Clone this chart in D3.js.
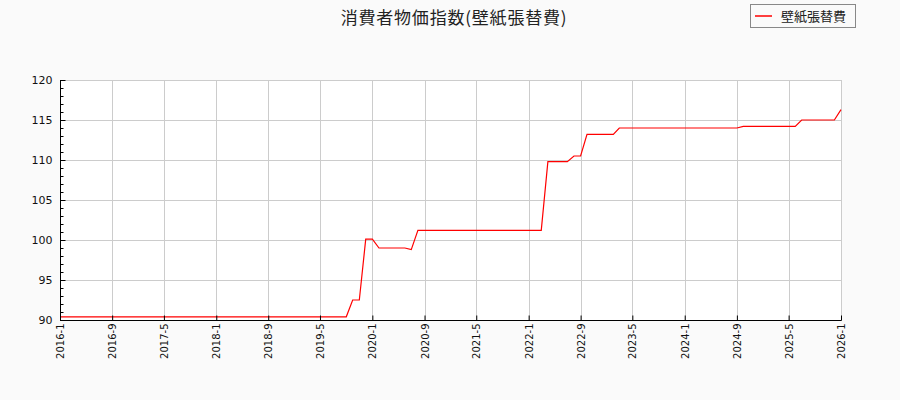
<!DOCTYPE html>
<html>
<head>
<meta charset="utf-8">
<script src="https://cdn.jsdelivr.net/npm/d3@7"></script>
<style>
  html, body { margin: 0; padding: 0; background: #fafafa; }
  svg { display: block; }
</style>
</head>
<body>
<svg id="chart" width="900" height="400"></svg>
<script>
// ---- data ----
const title = "消費者物価指数(壁紙張替費)";
const seriesName = "壁紙張替費";
const startYear = 2016, startMonth = 1;
// monthly values from 2016-1 to 2026-1
const values = [
  // 2016
  90.4, 90.4, 90.4, 90.4, 90.4, 90.4, 90.4, 90.4, 90.4, 90.4, 90.4, 90.4,
  // 2017
  90.4, 90.4, 90.4, 90.4, 90.4, 90.4, 90.4, 90.4, 90.4, 90.4, 90.4, 90.4,
  // 2018
  90.4, 90.4, 90.4, 90.4, 90.4, 90.4, 90.4, 90.4, 90.4, 90.4, 90.4, 90.4,
  // 2019
  90.4, 90.4, 90.4, 90.4, 90.4, 90.4, 90.4, 90.4, 90.4, 92.5, 92.5, 100.1,
  // 2020
  100.1, 99.0, 99.0, 99.0, 99.0, 99.0, 98.8, 101.2, 101.2, 101.2, 101.2, 101.2,
  // 2021
  101.2, 101.2, 101.2, 101.2, 101.2, 101.2, 101.2, 101.2, 101.2, 101.2, 101.2, 101.2,
  // 2022
  101.2, 101.2, 101.2, 109.8, 109.8, 109.8, 109.8, 110.5, 110.5, 113.2, 113.2, 113.2,
  // 2023
  113.2, 113.2, 114.0, 114.0, 114.0, 114.0, 114.0, 114.0, 114.0, 114.0, 114.0, 114.0,
  // 2024
  114.0, 114.0, 114.0, 114.0, 114.0, 114.0, 114.0, 114.0, 114.0, 114.2, 114.2, 114.2,
  // 2025
  114.2, 114.2, 114.2, 114.2, 114.2, 114.2, 115.0, 115.0, 115.0, 115.0, 115.0, 115.0,
  // 2026
  116.3
];
const xTickLabels = ["2016-1","2016-9","2017-5","2018-1","2018-9","2019-5","2020-1","2020-9",
                     "2021-5","2022-1","2022-9","2023-5","2024-1","2024-9","2025-5","2026-1"];
const yTicks = [90, 95, 100, 105, 110, 115, 120];
const yDomain = [90, 120];

// ---- layout ----
const svg = d3.select("#chart");
const W = 900, H = 400;
const m = { left: 60, right: 59, top: 80, bottom: 80 };
const x0 = m.left, x1 = W - m.right, y0 = H - m.bottom, y1 = m.top;

const parse = s => { const [y, mo] = s.split("-").map(Number); return new Date(y, mo - 1, 1); };
const data = values.map((v, i) => ({ date: new Date(startYear, startMonth - 1 + i, 1), value: v }));

const x = d3.scaleTime().domain([parse("2016-1"), parse("2026-1")]).range([x0, x1]);
const y = d3.scaleLinear().domain(yDomain).range([y0, y1]);

svg.append("rect").attr("width", W).attr("height", H).attr("fill", "#fafafa");
svg.append("rect").attr("x", x0).attr("y", y1).attr("width", x1 - x0).attr("height", y0 - y1).attr("fill", "#ffffff");

// grid
const grid = svg.append("g").attr("stroke", "#cccccc").attr("stroke-width", 1);
xTickLabels.forEach(t => {
  const px = Math.round(x(parse(t))) + 0.5;
  grid.append("line").attr("x1", px).attr("x2", px).attr("y1", y1).attr("y2", y0);
});
yTicks.forEach(t => {
  const py = Math.round(y(t)) + 0.5;
  grid.append("line").attr("x1", x0).attr("x2", x1).attr("y1", py).attr("y2", py);
});

// line
const line = d3.line().x(d => x(d.date)).y(d => y(d.value));
svg.append("path").datum(data)
  .attr("fill", "none").attr("stroke", "#ff0000").attr("stroke-width", 1.2)
  .attr("d", line);

// y axis
const yAxis = d3.axisLeft(y).tickValues(yTicks).tickSize(-5).tickPadding(8).tickFormat(d3.format("d"));
const gy = svg.append("g").attr("transform", `translate(${x0 + 0.5},0)`).call(yAxis);
gy.select(".domain").remove();
gy.selectAll("text").attr("font-family", "DejaVu Sans").attr("font-size", 11).attr("fill", "#111");
gy.selectAll("line").attr("stroke", "#000");
const yMinor = d3.range(90, 121, 1).filter(v => v % 5 !== 0);
const gyMinor = svg.append("g").attr("transform", `translate(${x0 + 0.5},0)`)
  .call(d3.axisLeft(y).tickValues(yMinor).tickSize(-3).tickFormat(""));
gyMinor.select(".domain").remove();
gyMinor.selectAll("line").attr("stroke", "#000");

// x axis
const xAxis = d3.axisBottom(x).tickValues(xTickLabels.map(parse)).tickSize(-5)
  .tickFormat((d, i) => xTickLabels[i]);
const gx = svg.append("g").attr("transform", `translate(0,${y0 + 0.5})`).call(xAxis);
gx.select(".domain").remove();
gx.selectAll("line").attr("stroke", "#000");
gx.selectAll("text")
  .attr("font-family", "DejaVu Sans").attr("font-size", 10).attr("fill", "#111")
  .attr("text-anchor", "end")
  .attr("transform", "translate(0,3) rotate(-90)")
  .attr("x", 0).attr("y", 0).attr("dy", "0.35em");

// spines
svg.append("line").attr("x1", x0 + 0.5).attr("x2", x0 + 0.5).attr("y1", y1).attr("y2", y0 + 1)
  .attr("stroke", "#000").attr("stroke-width", 1);
svg.append("line").attr("x1", x0).attr("x2", x1 + 0.5).attr("y1", y0 + 0.5).attr("y2", y0 + 0.5)
  .attr("stroke", "#000").attr("stroke-width", 1);

// title
svg.append("text").attr("x", 454).attr("y", 24).attr("text-anchor", "middle")
  .attr("font-family", "Noto Sans CJK JP").attr("font-size", 17).attr("fill", "#222")
  .attr("letter-spacing", 0.8)
  .text(title);

// legend
const lg = svg.append("g");
lg.append("rect").attr("x", 750.5).attr("y", 4.5).attr("width", 105).attr("height", 23)
  .attr("fill", "#fafafa").attr("stroke", "#888").attr("stroke-width", 1);
lg.append("line").attr("x1", 755).attr("x2", 772).attr("y1", 16).attr("y2", 16)
  .attr("stroke", "#ff0000").attr("stroke-width", 1.5);
lg.append("text").attr("x", 781).attr("y", 20.5)
  .attr("font-family", "Noto Sans CJK JP").attr("font-size", 13).attr("fill", "#222")
  .text(seriesName);
</script>
</body>
</html>
